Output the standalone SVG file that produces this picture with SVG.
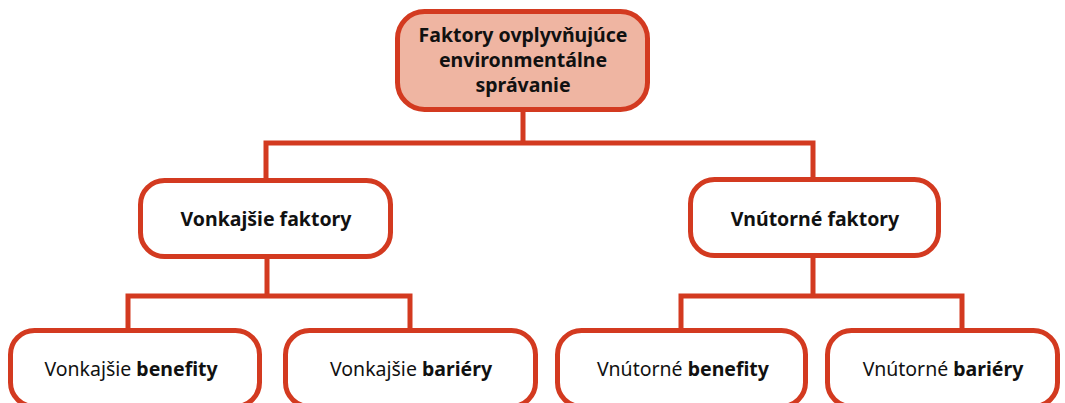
<svg xmlns="http://www.w3.org/2000/svg" width="1065" height="403" viewBox="0 0 1065 403">
<style>
.box{fill:#fff;stroke:#D33A20;stroke-width:5}
.top{fill:#EFB5A2}
.conn{fill:none;stroke:#D33A20;stroke-width:5}
text{font-family:"Noto Sans","Open Sans",sans-serif;font-size:19.5px;fill:#111;text-anchor:middle}
.b{font-weight:bold}
</style>
<rect width="1065" height="403" fill="#fff"/>
<g id="connectors">
<path class="conn" d="M523 111 V143 M266 180 V143 H813 V180"/>
<path class="conn" d="M267 258 V296 M128 330 V296 H410 V330"/>
<path class="conn" d="M813 258 V296 M681 330 V296 H962 V330"/>
</g>
<g id="root">
<rect class="box top" x="397.5" y="11.5" width="250" height="98" rx="27"/>
<text class="b" x="523" y="42">Faktory ovplyvňujúce</text>
<text class="b" x="523" y="67">environmentálne</text>
<text class="b" x="523" y="92">správanie</text>
</g>
<g id="vonkajsie">
<rect class="box" x="140.5" y="180.5" width="250" height="76" rx="24"/>
<text class="b" x="266" y="226">Vonkajšie faktory</text>
</g>
<g id="vnutorne">
<rect class="box" x="690.5" y="179.5" width="248" height="76" rx="24"/>
<text class="b" x="815" y="226">Vnútorné faktory</text>
</g>
<g id="vonk-benefity">
<rect class="box" x="10.5" y="330.5" width="249" height="76" rx="24"/>
<text x="131" y="376">Vonkajšie <tspan class="b">benefity</tspan></text>
</g>
<g id="vonk-bariery">
<rect class="box" x="285.5" y="330.5" width="250" height="76" rx="24"/>
<text x="411" y="376">Vonkajšie <tspan class="b">bariéry</tspan></text>
</g>
<g id="vnut-benefity">
<rect class="box" x="557.5" y="330.5" width="248" height="76" rx="24"/>
<text x="683" y="376">Vnútorné <tspan class="b">benefity</tspan></text>
</g>
<g id="vnut-bariery">
<rect class="box" x="827.5" y="330.5" width="230" height="76" rx="24"/>
<text x="943" y="376">Vnútorné <tspan class="b">bariéry</tspan></text>
</g>
</svg>
